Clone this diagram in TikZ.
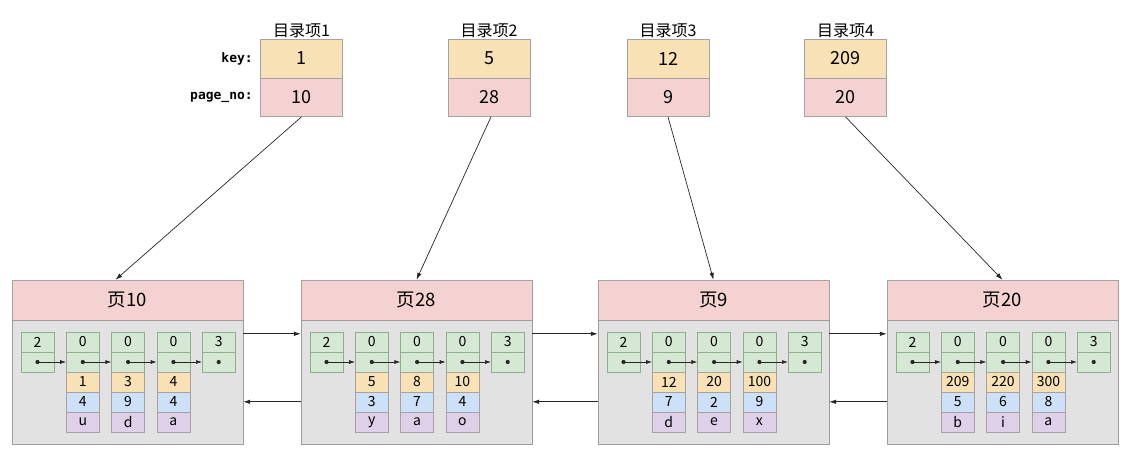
\documentclass[tikz,border=0pt]{standalone}
\usepackage{fontspec}
\setmainfont{Noto Sans CJK SC}
\newfontfamily\labelfont{DejaVu Sans Mono}
\usetikzlibrary{arrows.meta,positioning,calc}

\definecolor{keyfill}{HTML}{F7E1B5}
\definecolor{pagefill}{HTML}{F5D2D2}
\definecolor{greenfill}{HTML}{D5E8D4}
\definecolor{greenline}{HTML}{8FAF8C}
\definecolor{bluefill}{HTML}{CCE1F8}
\definecolor{purplefill}{HTML}{DFD0EA}
\definecolor{bodyfill}{HTML}{E2E2E2}
\definecolor{cellline}{HTML}{A9A1A0}

\tikzset{
  dircell/.style={draw=cellline, minimum width=82, minimum height=38.5, inner sep=0pt,
    font=\fontsize{18}{21}\selectfont},
  dirtitle/.style={inner sep=1pt, font=\fontsize{16}{19}\selectfont},
  fieldname/.style={anchor=east, inner sep=0pt, font=\labelfont\bfseries\fontsize{13}{15}\selectfont},
  head/.style={draw=cellline, fill=pagefill, minimum width=231, minimum height=40, inner sep=0pt,
    font=\fontsize{18.5}{22}\selectfont},
  body/.style={draw=cellline!80!gray, fill=bodyfill, minimum width=231, minimum height=124, inner sep=0pt},
  rec/.style={draw=cellline, minimum width=33, minimum height=20, inner sep=0pt,
    font=\fontsize{14}{16}\selectfont},
  gcell/.style={rec, draw=greenline, fill=greenfill},
  link/.style={draw=black!85, line width=0.7pt, -{Latex[length=7pt,width=4.5pt]}},
  ptr/.style={draw=black!85, line width=0.7pt, -{Latex[length=6pt,width=4pt]}}
}

\begin{document}
\begin{tikzpicture}[x=1pt, y=-1pt]
  \useasboundingbox (0,0) rectangle (1136,460);

  % directory entries
  \foreach \i/\x/\k/\p in {1/301.5/1/10, 2/489/5/28, 3/668/12/9, 4/845.5/209/20}{
    \node[dircell, fill=keyfill] (d\i k) at (\x,58.5) {\k};
    \node[dircell, fill=pagefill, below=0pt of d\i k] (d\i p) {\p};
    \node[dirtitle, above=0pt of d\i k] (t\i) {目录项\i};
  }
  \node[fieldname] (keylbl) at (253,58.5) {key:};
  \node[fieldname] (pnolbl) at (253,97) {page\_no:};

  % data pages
  \foreach \pg/\px/\ka/\kb/\kc/\na/\nb/\nc/\ca/\cb/\cc in
      {10/12/1/3/4/4/9/4/u/d/a, 28/301/5/8/10/3/7/4/y/a/o,
       9/598/12/20/100/7/2/9/d/e/x, 20/887/209/220/300/5/6/8/b/i/a}{
    \node[head] (h\pg) at (\px+115.5,300) {页\pg};
    \node[body] (b\pg) at (\px+115.5,382) {};
    \node[gcell] (r\pg-0t) at (\px+25.5,342) {2};
    \node[gcell] (r\pg-0n) at (\px+25.5,362) {};
    \node[gcell] (r\pg-4t) at (\px+206.7,342) {3};
    \node[gcell] (r\pg-4n) at (\px+206.7,362) {};
    \foreach \j/\k/\n/\c in {1/\ka/\na/\ca, 2/\kb/\nb/\cb, 3/\kc/\nc/\cc}{
      \node[gcell] (r\pg-\j t) at (\px+25.5+45.3*\j,342) {0};
      \node[gcell] (r\pg-\j n) at (\px+25.5+45.3*\j,362) {};
      \node[rec, fill=keyfill] (r\pg-\j k) at (\px+25.5+45.3*\j,382) {\k};
      \node[rec, fill=bluefill] (r\pg-\j v) at (\px+25.5+45.3*\j,402) {\n};
      \node[rec, fill=purplefill] (r\pg-\j c) at (\px+25.5+45.3*\j,422) {\c};
    }
    \foreach \j/\m in {0/1, 1/2, 2/3, 3/4}{
      \fill[black!85] (r\pg-\j n.center) circle (2.1pt);
      \draw[ptr] (r\pg-\j n.center) -- (r\pg-\m n.west);
    }
    \fill[black!85] (r\pg-4n.center) circle (2.1pt);
  }

  % links between pages
  \foreach \a/\b in {10/28, 28/9, 9/20}{
    \draw[link] ([yshift=-14pt]b\a.north east) -- ([yshift=-14pt]b\b.north west);
    \draw[link] ([yshift=-82pt]b\b.north west) -- ([yshift=-82pt]b\a.north east);
  }

  % directory entry -> page
  \draw[link] (d1p.south) -- ([xshift=-12pt]h10.north);
  \draw[link] ([xshift=2pt]d2p.south) -- (h28.north);
  \draw[link] (d3p.south) -- (h9.north);
  \draw[link] (d4p.south) -- (h20.north);
\end{tikzpicture}
\end{document}
